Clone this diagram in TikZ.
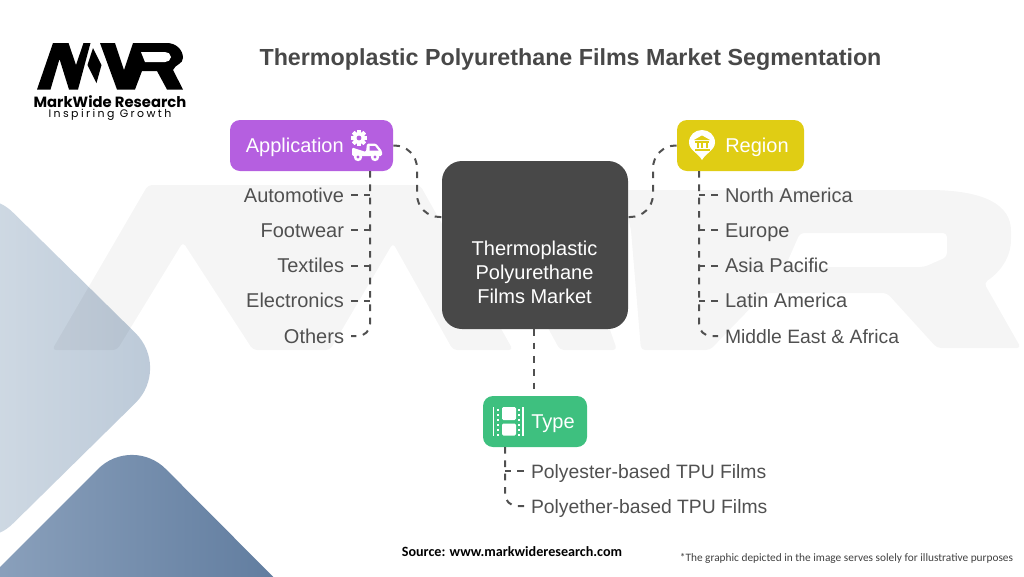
\documentclass[tikz,border=0pt]{standalone}
\usepackage{fontspec}
\setmainfont{Liberation Sans}
\newfontfamily\popf{Poppins}
\newfontfamily\popsp[LetterSpace=22]{Poppins}
\newfontfamily\calf{Carlito}
\usetikzlibrary{calc}
\definecolor{ink}{HTML}{505050}
\definecolor{appc}{HTML}{B55FE0}
\definecolor{regc}{HTML}{E0CD14}
\definecolor{typc}{HTML}{3EC07F}
\definecolor{cenc}{HTML}{484848}
\tikzset{
  catbox/.style={draw=none,rounded corners=7.5pt,inner sep=0pt,minimum height=38.25pt},
  lab/.style={inner sep=0pt,text=white,font=\fontsize{15}{18}\selectfont,text height=13pt,text depth=2.5pt},
  leafr/.style={lab,text=ink,anchor=east,outer sep=5.25pt},
  leafl/.style={lab,text=ink,anchor=west,outer sep=5.25pt},
  narrow/.style={font=\fontsize{14.5}{18}\selectfont},
  conn/.style={draw=ink,line width=1.5pt,dash pattern=on 5pt off 5pt},
  wm/.style={fill=black,fill opacity=0.04,draw=none,rounded corners=3pt}
}
\begin{document}
\begin{tikzpicture}[x=0.75pt,y=-0.75pt]
\useasboundingbox (0,0) rectangle (1024,576);
\clip (0,0) rectangle (1024,576);
% background shapes
\path[rounded corners=37.5pt,shade,shading angle=135,left color={rgb,255:red,208;green,218;blue,228},right color={rgb,255:red,186;green,200;blue,215}]
  (-22,178) -- (171,368) -- (-22,558) -- cycle;
\path[rounded corners=36pt,shade,left color={rgb,255:red,146;green,167;blue,193},right color={rgb,255:red,88;green,117;blue,153}]
  (-60,627) -- (132,435) -- (340,644) -- cycle;
% watermark
\path[wm] (52,350) -- (148,185) -- (420,185) -- (513,350) -- (453,350) -- (393,243) -- (330,350) -- (253,350) -- (183,242) -- (117,350) -- cycle;
\path[wm] (470,185) -- (560,185) -- (617,350) -- (560,350) -- cycle;
\path[wm,even odd rule] (641,350) -- (631,230) -- (622,190) -- (924,190) .. controls (985,190) and (1011,205) .. (1011,235) .. controls (1011,258) and (1000,272) .. (984,283) -- (1021,348) -- (937,348) -- (887,293) -- (765,293) -- (710,350) -- cycle
  (800,233) -- (947,233) -- (947,257) -- (924,267) -- (785,267) -- cycle;
% logo
\fill[black] (37,89.5) -- (53,43) -- (68.5,43) -- (76,65) -- (83.5,43) -- (90.5,43) -- (78,89.5) -- (69,89.5) -- (59.5,59) -- (50.5,89.5) -- cycle;
\fill[black] (93,48) -- (87.5,65) -- (96.5,83) -- (101.5,65) -- cycle;
\fill[black] (100,43) -- (115,43) -- (124,70) -- (133,43) -- (167,43) to[out=0,in=90] (183,58) to[out=-90,in=70] (173,70) -- (183,89.5) -- (167,89.5) -- (157,71) -- (142,71) -- (135,89.5) -- (117,89.5) -- cycle;
\fill[white] (141,52) -- (165,52) to[out=0,in=90] (171,57) to[out=-90,in=0] (165,62) -- (145,62) -- cycle;
\node[inner sep=0pt,text=black] (logoa) at (110,101.5) {\fontsize{11.1}{13}\popf\bfseries MarkWide Research};
\node[inner sep=0pt,text=black] (logob) at (110,115) {\fontsize{8.2}{9}\popsp Inspiring Growth};
% title
\node[inner sep=0pt,text=ink!90!black] (title) at (570.5,59.5) {\fontsize{17.45}{22}\selectfont\bfseries Thermoplastic Polyurethane Films Market Segmentation};
% main nodes
\node[fill=cenc,rounded corners=15pt,minimum width=139.5pt,minimum height=126pt,inner sep=0pt] (cen) at (535,245) {};
\node[lab,align=center,text height=,text depth=] (centxt) at (534.5,272.5) {Thermoplastic\\Polyurethane\\Films Market};
\node[catbox,fill=appc,minimum width=122.25pt] (app) at (311.5,145.5) {};
\node[catbox,fill=regc,minimum width=95.25pt] (reg) at (740.5,145.5) {};
\node[catbox,fill=typc,minimum width=78pt] (typ) at (535,421.5) {};
\node[lab,anchor=east] (applab) at (344,145) {Application};
\node[lab,anchor=west] (reglab) at (725,145) {Region};
\node[lab,anchor=west] (typlab) at (531,421.5) {Type};
% leaves
\node[leafr] (a1) at (351,195) {Automotive};
\node[leafr] (a2) at (351,230) {Footwear};
\node[leafr] (a3) at (351,265.5) {Textiles};
\node[leafr] (a4) at (351,300.5) {Electronics};
\node[leafr] (a5) at (351,336) {Others};
\node[leafl] (r1) at (718,195) {North America};
\node[leafl] (r2) at (718,230) {Europe};
\node[leafl] (r3) at (718,265.5) {Asia Pacific};
\node[leafl] (r4) at (718,300.5) {Latin America};
\node[leafl,narrow] (r5) at (718,336) {Middle East \& Africa};
\node[leafl,narrow] (t1) at (524,471) {Polyester-based TPU Films};
\node[leafl,narrow] (t2) at (524,506) {Polyether-based TPU Films};
% connectors
\coordinate (cl) at (cen.west |- 0,217);
\coordinate (cr) at (cen.east |- 0,217);
\coordinate (as) at (370,171);
\coordinate (rs) at (699,171);
\coordinate (ts) at (505,447);
\draw[conn,rounded corners=17pt] (app.east) -- (417,145.5) -- (417,217) -- (cl);
\draw[conn,rounded corners=17pt] (reg.west) -- (653,145.5) -- (653,217) -- (cr);
\draw[conn] (cen.south -| 534,0) -- (typ.north -| 534,0);
\foreach \n in {1,2,3,4} {
  \draw[conn] (a\n.east) -- (as |- a\n.east);
  \draw[conn] (r\n.west) -- (rs |- r\n.west);
}
\draw[conn] (t1.west) -- (ts |- t1.west);
\draw[conn,rounded corners=9pt] (as) |- (a5.east);
\draw[conn,rounded corners=9pt] (rs) |- (r5.west);
\draw[conn,rounded corners=9pt] (ts) |- (t2.west);
% application icon
\begin{scope}[shift={(359,138)}]
  \foreach \a in {0,45,...,315} \fill[white,rotate=\a] (-1.8,-8) rectangle (1.8,8);
  \fill[white] (0,0) circle[radius=6];
  \fill[appc] (0,0) circle[radius=2.4];
\end{scope}
\fill[white,rounded corners=1pt] (352,147.5) -- (366,152) -- (367,143.5) -- (376,143.5) -- (382,151) -- (382,156) -- (352,156) -- cycle;
\fill[appc] (369.5,146) -- (375,146) -- (378.5,150.5) -- (369.5,150.5) -- cycle;
\foreach \x in {358,375} {\fill[white] (\x,157) circle[radius=4.2]; \fill[appc] (\x,157) circle[radius=1.6];}
% region icon
\fill[white] (702,160) .. controls (698,153) and (689,150) .. (689,142.5) .. controls (689,135) and (695,130) .. (702,130) .. controls (709,130) and (715,135) .. (715,142.5) .. controls (715,150) and (706,153) .. (702,160) -- cycle;
\fill[regc] (702,135.5) -- (710,140) -- (694,140) -- cycle;
\fill[regc] (695,141) rectangle (709,142.5);
\foreach \x in {696.5,701,705.5} \fill[regc] (\x,143) rectangle +(2,5);
\fill[regc] (694.5,148.5) rectangle (709.5,150.5);
% type icon
\draw[white,line width=1.4pt] (493.5,407) -- (493.5,435.5) (523,407) -- (523,435.5);
\fill[white,rounded corners=1pt] (502,407) rectangle (516,420);
\fill[white,rounded corners=1pt] (502,423.5) rectangle (516,435.5);
\foreach \y in {409,414,419,424,429,434} {\fill[white] (497,\y) rectangle +(2,2.4); \fill[white] (518,\y) rectangle +(2,2.4);}
% footer
\node[inner sep=0pt,text=black] (src) at (512,552) {\fontsize{10.6}{12}\calf\bfseries Source: www.markwideresearch.com};
\node[inner sep=0pt,text=ink!80!black] (note) at (846.5,558) {\fontsize{8.5}{10}\calf *The graphic depicted in the image serves solely for illustrative purposes};
\end{tikzpicture}
\end{document}
